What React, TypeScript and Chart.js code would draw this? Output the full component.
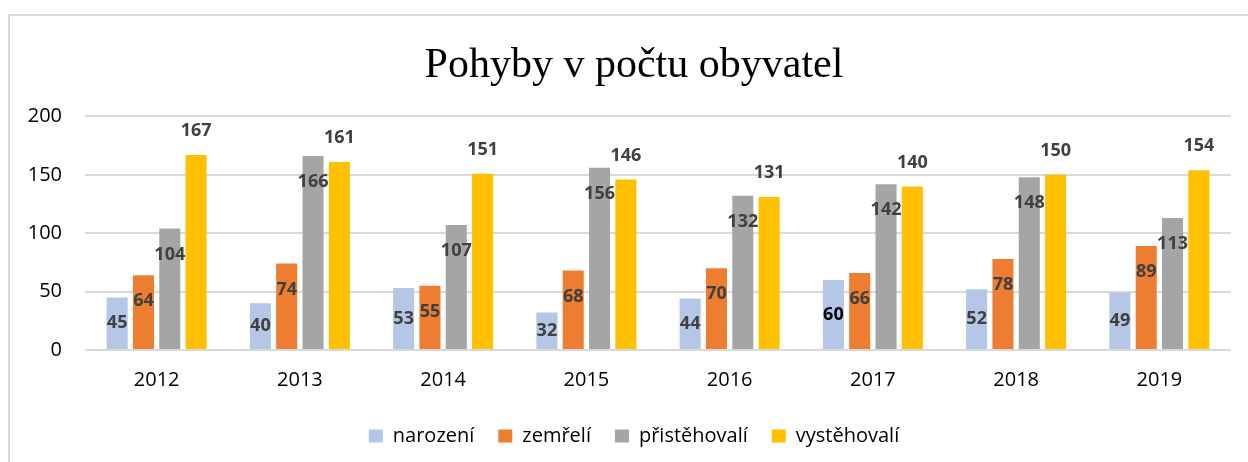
import React, { useEffect, useRef } from 'react';
import { Chart, registerables } from 'chart.js';

Chart.register(...registerables);

const years = ['2012', '2013', '2014', '2015', '2016', '2017', '2018', '2019'];
const narozeni = [45, 40, 53, 32, 44, 60, 52, 49];
const zemreli = [64, 74, 55, 68, 70, 66, 78, 89];
const pristehovali = [104, 166, 107, 156, 132, 142, 148, 113];
const vystehovali = [167, 161, 151, 146, 131, 140, 150, 154];
const yMin = 0;
const yMax = 200;
const yStep = 50;

const LABEL_COLOR = '#404040';

const barLabels = {
  id: 'barLabels',
  afterDatasetsDraw(chart: any) {
    const ctx = chart.ctx;
    ctx.save();
    ctx.font = 'bold 18px "Open Sans"';
    ctx.textAlign = 'center';
    ctx.textBaseline = 'middle';
    chart.data.datasets.forEach((ds: any, i: number) => {
      const meta = chart.getDatasetMeta(i);
      if (meta.hidden) return;
      meta.data.forEach((el: any, j: number) => {
        const p = el.getProps(['x', 'y', 'base'], true);
        let ly = p.y;
        if (ds.labelPlace === 'center') ly = (p.y + p.base) / 2;
        else if (ds.labelPlace === 'inside') ly = p.y + 26;
        else ly = p.y - 24;
        ctx.fillStyle = ds.labelColors ? ds.labelColors[j] : LABEL_COLOR;
        ctx.fillText(String(ds.data[j]), p.x, ly);
      });
    });
    ctx.restore();
  },
};

export default function App() {
  const ref = useRef<HTMLCanvasElement>(null);

  useEffect(() => {
    if (!ref.current) return;
    const chart = new Chart(ref.current, {
      type: 'bar',
      data: {
        labels: years,
        datasets: [
          {
            label: 'narození',
            data: narozeni,
            backgroundColor: '#B4C7E7',
            borderWidth: 0,
            labelPlace: 'center',
            labelColors: narozeni.map((_, j) => (years[j] === '2017' ? '#000000' : LABEL_COLOR)),
          } as any,
          {
            label: 'zemřelí',
            data: zemreli,
            backgroundColor: '#ED7D31',
            borderWidth: 0,
            labelPlace: 'inside',
          } as any,
          {
            label: 'přistěhovalí',
            data: pristehovali,
            backgroundColor: '#A5A5A5',
            borderWidth: 0,
            labelPlace: 'inside',
          } as any,
          {
            label: 'vystěhovalí',
            data: vystehovali,
            backgroundColor: '#FFC000',
            borderWidth: 0,
            labelPlace: 'above',
          } as any,
        ],
      },
      options: {
        responsive: false,
        animation: false,
        devicePixelRatio: 1,
        layout: { padding: { left: 0, right: 0, top: 0, bottom: 20 } },
        datasets: { bar: { categoryPercentage: 0.735, barPercentage: 0.8 } },
        scales: {
          x: {
            grid: { display: false, drawTicks: false },
            border: { display: false },
            ticks: {
              padding: 18,
              color: '#000000',
              font: { family: '"Open Sans"', size: 20 },
            },
            afterFit: (s: any) => {
              s.height = 52;
            },
          },
          y: {
            min: yMin,
            max: yMax,
            grid: { color: '#d9d9d9', lineWidth: 2, drawTicks: false },
            border: { display: false },
            ticks: {
              stepSize: yStep,
              padding: 23,
              color: '#000000',
              font: { family: '"Open Sans"', size: 20 },
            },
            afterFit: (s: any) => {
              s.width = 75;
            },
          },
          yRight: {
            position: 'right',
            display: true,
            min: yMin,
            max: yMax,
            grid: { display: false, drawTicks: false },
            border: { display: false },
            ticks: { display: false },
            afterFit: (s: any) => {
              s.width = 27;
            },
          },
        },
        plugins: {
          title: {
            display: true,
            text: 'Pohyby v počtu obyvatel',
            color: '#000000',
            font: { family: '"Liberation Serif"', size: 42, weight: 'normal' },
            padding: { top: 25, bottom: 25 },
          },
          legend: {
            position: 'bottom',
            labels: {
              color: '#000000',
              font: { family: '"Open Sans"', size: 20 },
              boxWidth: 14,
              boxHeight: 13,
              padding: 24,
            },
          },
          tooltip: { enabled: false },
        },
      } as any,
      plugins: [barLabels],
    });
    return () => chart.destroy();
  }, []);

  return (
    <div
      style={{
        position: 'fixed',
        left: 0,
        top: 0,
        width: '100vw',
        height: '100vh',
        overflow: 'hidden',
        background: '#ffffff',
      }}
    >
      <div
        style={{
          position: 'absolute',
          left: 8,
          top: 14,
          width: 1260,
          height: 480,
          borderLeft: '2px solid #d9d9d9',
          borderTop: '2px solid #d9d9d9',
        }}
      >
        <canvas ref={ref} width={1248} height={460} style={{ display: 'block' }} />
      </div>
    </div>
  );
}
